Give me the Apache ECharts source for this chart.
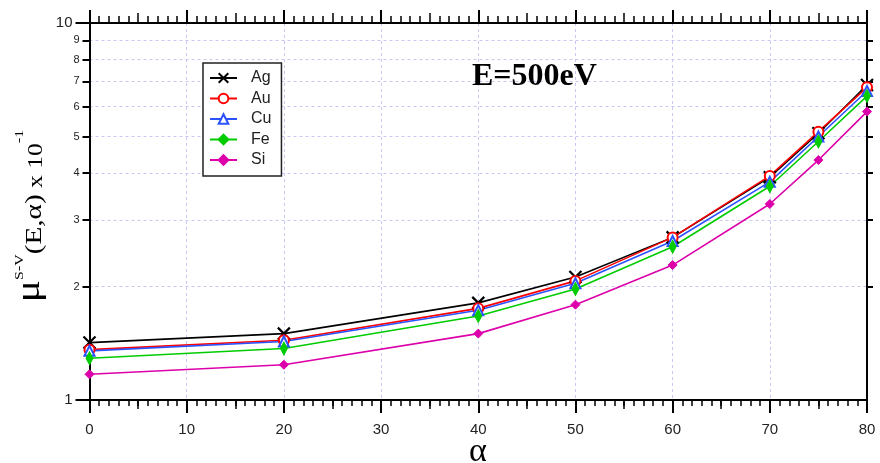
<!DOCTYPE html>
<html><head><meta charset="utf-8">
<script src="https://cdn.jsdelivr.net/npm/echarts@6/dist/echarts.min.js"></script>
<style>html,body{margin:0;padding:0;background:#fff}#c{width:880px;height:463px}</style>
</head><body><div id="c"></div>
<script>
const alpha = [0, 20, 40, 50, 60, 70, 75, 80];
const Ag = [1.42, 1.50, 1.81, 2.12, 2.70, 3.90, 5.10, 6.85];
const Au = [1.36, 1.44, 1.75, 2.07, 2.70, 3.93, 5.15, 6.75];
const Cu = [1.35, 1.43, 1.73, 2.04, 2.64, 3.79, 5.00, 6.60];
const Fe = [1.29, 1.37, 1.67, 1.97, 2.55, 3.69, 4.85, 6.40];
const Si = [1.17, 1.24, 1.50, 1.79, 2.28, 3.31, 4.33, 5.82];
const yLabels = [1, 2, 3, 4, 5, 6, 7, 8, 9, 10];
const yMinorTicks = [2, 3, 4, 5, 6, 7, 8, 9];
const yMajorTicks = [1, 10];

const chart = echarts.init(document.getElementById('c'), null, {renderer: 'canvas'});
const pair = ys => alpha.map((a, i) => [a, ys[i]]);
const crossPath = 'path://M0,0L10,10M10,0L0,10';
const mk = (name, ys, color, symbol, size, extra) => Object.assign({
  name, type: 'line', data: pair(ys), xAxisIndex: 0, yAxisIndex: 0,
  symbol, symbolSize: size, showSymbol: true,
  lineStyle: {color, width: 1.6},
  itemStyle: {color, borderColor: color, borderWidth: 1.8},
  emphasis: {disabled: true}, animation: false, z: 3
}, extra || {});

const gridLine = {show: true, lineStyle: {color: '#c8c8f5', type: [3, 3], width: 1}};
const sansLbl = {fontFamily: 'Liberation Sans, Arial, sans-serif', color: '#222'};
const blackLine = {show: true, onZero: false, lineStyle: {color: '#000', width: 2}};
const tickStyle = {color: '#000', width: 2};
const serif = 'Liberation Serif, Times New Roman, serif';
const rect = {left: 89.5, width: 777.5, top: 23, height: 377, containLabel: false, outerBoundsMode: 'none'};

chart.setOption({
  backgroundColor: '#fff',
  animation: false,
  grid: [Object.assign({}, rect), Object.assign({}, rect)],
  title: {text: 'E=500eV', left: 467, top: 56,
    textStyle: {fontFamily: serif, fontWeight: 'bold', fontSize: 32, color: '#000'}},
  legend: {
    left: 203, top: 63, orient: 'vertical', itemWidth: 27, itemHeight: 12, itemGap: 4.5,
    padding: [7, 10, 8, 6], borderColor: '#222', borderWidth: 1.5, backgroundColor: '#fff',
    textStyle: Object.assign({fontSize: 16, color: '#000', padding: [0, 0, 0, 9]}, sansLbl),
    data: ['Ag', 'Au', 'Cu', 'Fe', 'Si']
  },
  graphic: [{
    type: 'text', x: 30, y: 216, rotation: Math.PI / 2, scaleX: 1.22, scaleY: 1, z: 10,
    style: {
      text: '{mu|μ}{sup|S-V}{b|(E,α)}{x| x 10}{sup|-1}',
      align: 'center', verticalAlign: 'middle',
      rich: {
        mu: {fontFamily: serif, fontSize: 34, fill: '#000', verticalAlign: 'bottom'},
        sup: {fontFamily: serif, fontSize: 13, fill: '#000', verticalAlign: 'top'},
        b: {fontFamily: serif, fontSize: 24, fill: '#000', verticalAlign: 'bottom'},
        x: {fontFamily: serif, fontSize: 21, fill: '#000', verticalAlign: 'bottom'}
      }
    }
  }, {
    type: 'text', x: 478, y: 452, z: 10,
    style: {text: 'α', align: 'center', verticalAlign: 'middle',
      font: '34px "Liberation Serif", "Times New Roman", serif', fill: '#000'}
  }],
  xAxis: [{
    gridIndex: 0, type: 'value', min: 0, max: 80, interval: 10, position: 'bottom',
    axisLine: blackLine,
    axisTick: {show: true, inside: false, length: 13, lineStyle: tickStyle},
    minorTick: {show: true, splitNumber: 10, length: 6, lineStyle: {color: '#000', width: 1.5}},
    axisLabel: Object.assign({fontSize: 15, margin: 22}, sansLbl),
    splitLine: gridLine
  }, {
    gridIndex: 0, type: 'value', min: 0, max: 80, interval: 10, position: 'top',
    axisLine: blackLine,
    axisTick: {show: true, inside: false, length: 13, lineStyle: tickStyle},
    minorTick: {show: true, splitNumber: 10, length: 7, lineStyle: {color: '#000', width: 1.5}},
    axisLabel: {show: false}, splitLine: {show: false}
  }, {
    gridIndex: 1, type: 'value', min: 0, max: 80, interval: 5, position: 'bottom',
    axisLine: {show: false}, axisTick: {show: true, inside: false, length: 9, lineStyle: {color: '#000', width: 1.5}},
    axisLabel: {show: false}, splitLine: {show: false}
  }, {
    gridIndex: 1, type: 'value', min: 0, max: 80, interval: 5, position: 'top',
    axisLine: {show: false}, axisTick: {show: true, inside: false, length: 10, lineStyle: {color: '#000', width: 1.5}},
    axisLabel: {show: false}, splitLine: {show: false}
  }],
  yAxis: [{
    gridIndex: 0, type: 'log', logBase: 10, min: 1, max: 10, position: 'left',
    axisLine: blackLine,
    axisTick: {show: true, inside: false, length: 7, customValues: yMinorTicks, lineStyle: tickStyle},
    axisLabel: {
      customValues: yLabels, margin: 10,
      formatter: v => (Math.round(v) === 1 || Math.round(v) === 10) ? '{big|' + Math.round(v) + '}' : '{sm|' + Math.round(v) + '}',
      rich: {
        big: Object.assign({fontSize: 15, padding: [0, 7, 0, 0]}, sansLbl),
        sm: Object.assign({fontSize: 11}, sansLbl)
      }
    },
    splitLine: Object.assign({}, gridLine, {})
  }, {
    gridIndex: 0, type: 'log', logBase: 10, min: 1, max: 10, position: 'right',
    axisLine: blackLine,
    axisTick: {show: true, inside: false, length: 6, customValues: yMinorTicks, lineStyle: tickStyle},
    axisLabel: {show: false}, splitLine: {show: false}
  }, {
    gridIndex: 1, type: 'log', logBase: 10, min: 1, max: 10, position: 'left',
    axisLine: {show: false},
    axisTick: {show: true, inside: false, length: 14, customValues: yMajorTicks, lineStyle: tickStyle},
    axisLabel: {show: false}, splitLine: {show: false}
  }],
  series: [
    mk('Ag', Ag, '#000000', crossPath, 12, {itemStyle: {color: '#000', borderColor: '#000', borderWidth: 2.2}}),
    mk('Au', Au, '#ff0000', 'emptyCircle', 10),
    mk('Cu', Cu, '#2a52ff', 'emptyTriangle', 10),
    mk('Fe', Fe, '#00cc00', 'path://M5,0L7,10L5,20L3,10Z', [7, 13], {itemStyle: {color: '#00cc00', borderColor: '#00cc00', borderWidth: 1}}),
    mk('Si', Si, '#dd00aa', 'diamond', 9, {itemStyle: {color: '#dd00aa', borderColor: '#dd00aa', borderWidth: 1}})
  ]
});
</script></body></html>
